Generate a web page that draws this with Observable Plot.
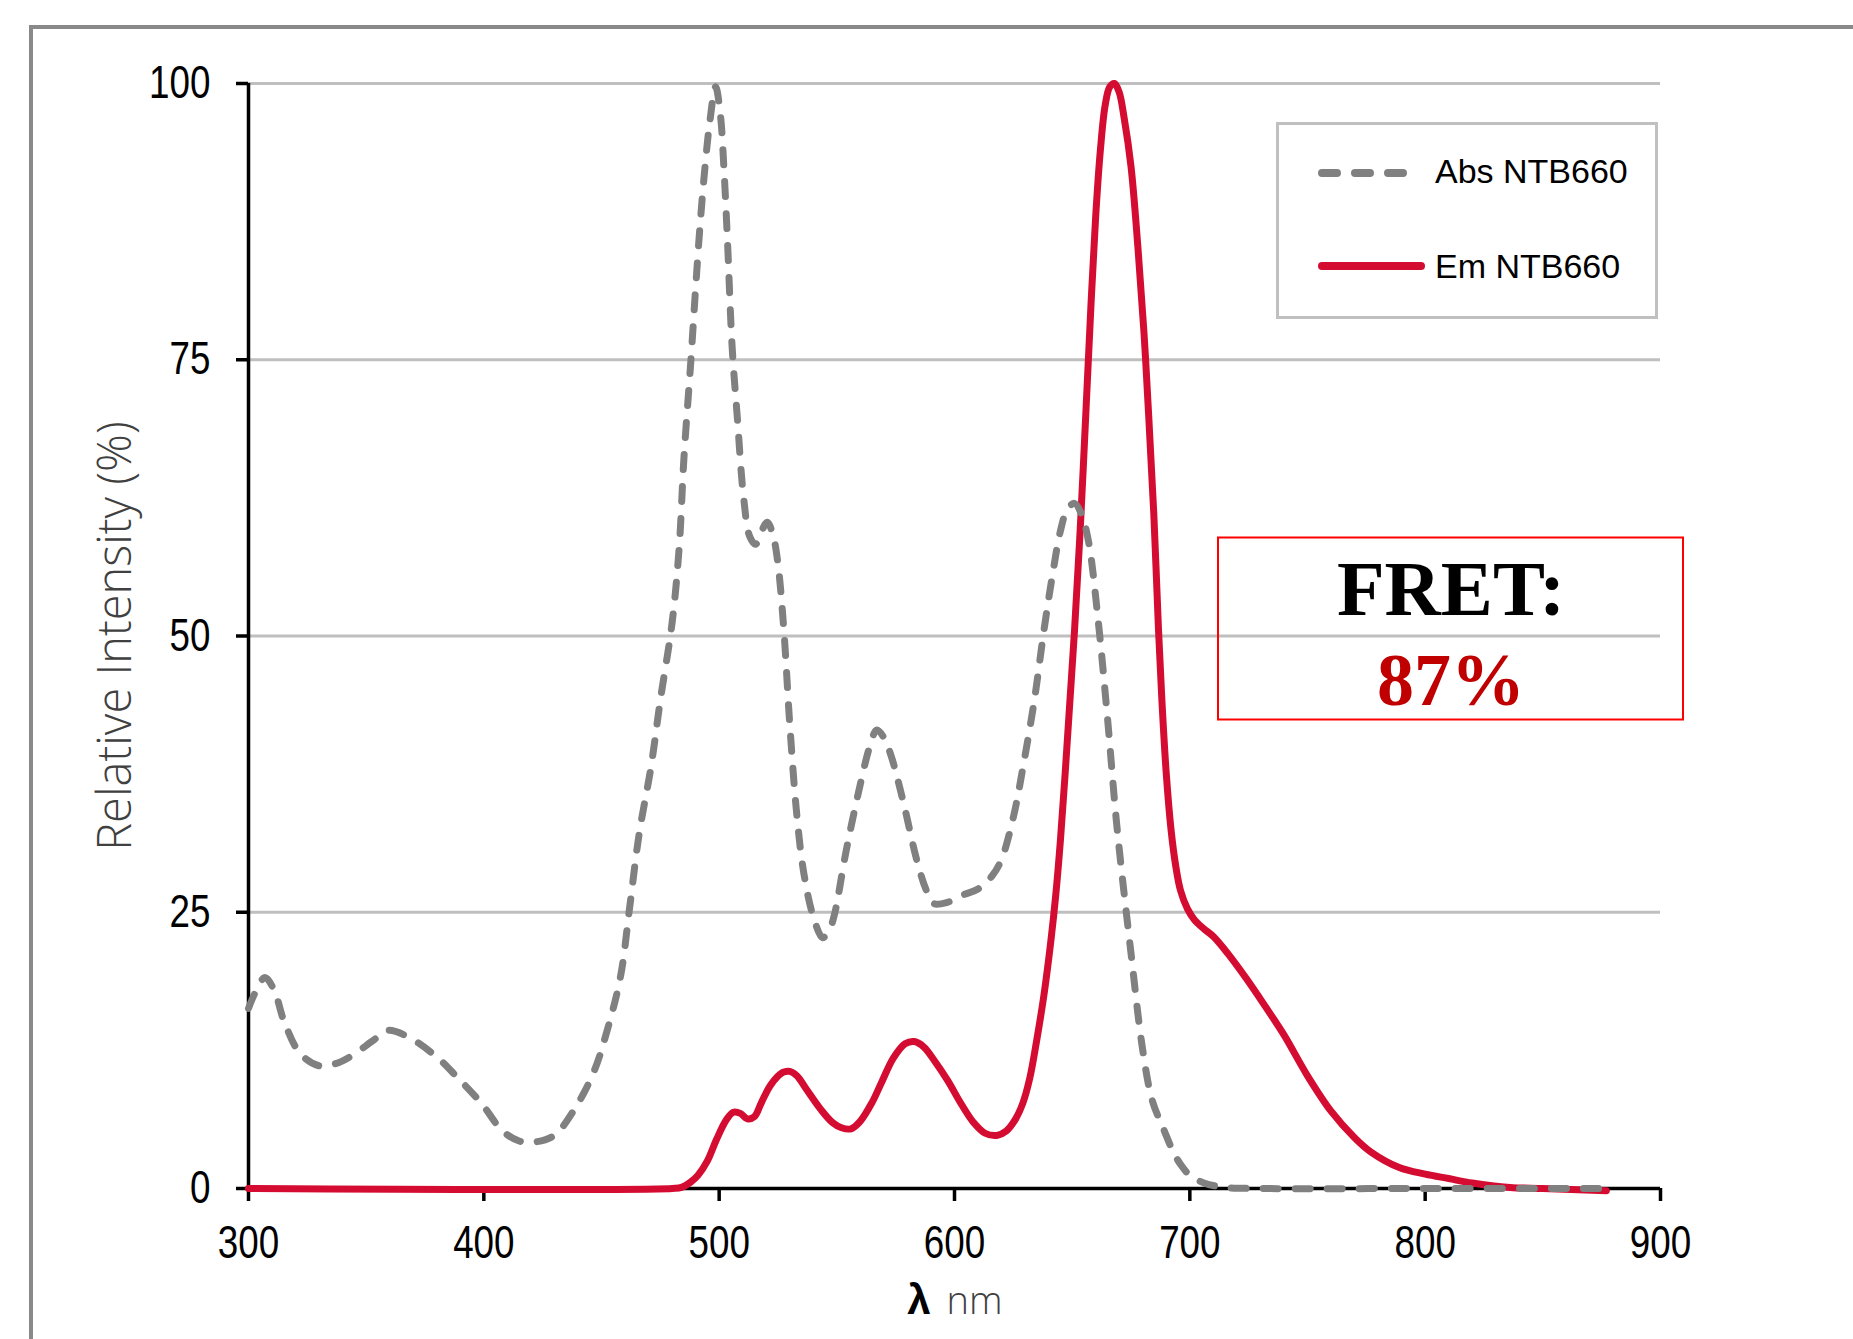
<!DOCTYPE html>
<html><head><meta charset="utf-8">
<script src="https://cdn.jsdelivr.net/npm/d3@7"></script>
<script src="https://cdn.jsdelivr.net/npm/@observablehq/plot@0.6"></script>
<style>
html,body{margin:0;padding:0;background:#fff;overflow:hidden;}
#wrap{position:relative;width:1853px;height:1339px;overflow:hidden;}
#frame{position:absolute;left:29px;top:25px;width:1900px;height:1400px;border-left:4px solid #898989;border-top:4px solid #898989;z-index:2;}
#wrap svg{position:absolute;left:0;top:0;}
#overlay{z-index:3;pointer-events:none;}
</style></head><body><div id="wrap"><div id="frame"></div></div>
<script>
// Absorbance (grey dashed)
const absWavelength = [300,303,307,311,315,322,330,337,343,353,359,368,380,389,399,408,415,420,426,431,440,447,452,458,462,466,471,475,480,483,485,488,490,492,494,496,498.5,500.5,502,503.5,505.5,507.7,510.4,513,515.5,518,520.5,523,525,527.5,530,533,536,540,544,547,549,554,560,564,567,570,573,578,584,588,591,597,604,610,616,620,625,629,634,638,642,645,648,651,654,657,661,665,669,675,680,684,689,693,696,700,706,715,730,800,875];
const absValue = [16.3,17.8,19.1,17.9,15.2,12.2,11.1,11.3,11.9,13.4,14.3,13.7,11.9,10.0,7.7,5.2,4.3,4.2,4.4,5.0,7.7,10.7,14.0,19.1,25.5,32.1,38.1,44.2,51.2,58.0,66.0,75.0,81.5,87.5,92.5,96.5,99.7,97.2,92.4,85.9,76.2,69.8,62.5,59.0,58.3,59.5,60.3,59.0,56.5,50.5,42.0,33.8,28.5,24.6,22.7,23.5,24.8,30.6,36.6,40.0,41.5,40.8,39.2,35.2,29.7,27.0,25.8,25.9,26.6,27.1,28.3,29.8,33.6,38.0,44.3,50.5,56.0,59.5,61.5,62.0,61.0,58.5,51.5,42.6,32.8,21.3,12.5,8.0,5.3,3.3,2.2,1.2,0.5,0.1,0,0,0];
// Emission (red solid)
const emWavelength = [300,480,484,488,491,495,499,503,506,509,512,515,518,522,527,530,533,537,543,548,552,556,560,565,569,574,579,583,587,592,597,603,608,613,618,622,626,629,632,635,638,641,643,645,647,649,651,653.5,656,658,660,662,664,666,668,670,672,675,678,680.5,682.5,684.7,686.7,688.3,690,692,694,696,699,702,706,710,716,724,732,740,750,760,770,777,789,800,810,820,836,850,877];
const emValue = [0,0,0.1,0.6,1.2,2.5,4.5,6.2,6.9,6.8,6.3,6.5,7.8,9.4,10.5,10.6,10.2,9.0,7.2,6.0,5.5,5.4,6.1,7.8,9.6,11.8,13.1,13.3,12.8,11.4,9.8,7.6,6.0,5.0,4.8,5.2,6.3,7.7,10.0,13.5,17.5,22.5,26.5,31.5,37.5,44.0,50.5,60.0,71.0,80.0,88.0,94.0,98.0,99.7,100,99.2,97.0,92.5,85.0,77.5,70.0,61.0,50.5,43.5,37.5,32.5,29.2,27.0,25.3,24.3,23.5,22.8,21.3,19.0,16.5,13.9,10.2,7.0,4.6,3.3,1.9,1.3,0.9,0.5,0.1,0,-0.2];

const seriesNames = ["Abs NTB660", "Em NTB660"];
const xTicks = [300, 400, 500, 600, 700, 800, 900];
const yTicks = [0, 25, 50, 75, 100];
const yLabel = "Relative Intensity (%)";
const xLabelSymbol = "λ";
const xLabelUnit = "nm";
const fretLabel = "FRET:";
const fretValue = "87%";

const absColor = "#808080";
const emColor = "#d50c31";

const abs = absWavelength.map((w, i) => ({w, v: absValue[i]}));
const em = emWavelength.map((w, i) => ({w, v: emValue[i]}));

const narrow = "'Liberation Sans Narrow', 'Liberation Sans', Arial, sans-serif";
const light = "'Open Sans', 'Noto Sans', sans-serif";

const chart = Plot.plot({
  width: 1853,
  height: 1339,
  marginLeft: 248,
  marginRight: 193,
  marginTop: 83,
  marginBottom: 151,
  style: {fontFamily: narrow, fontSize: "45px", color: "black", background: "transparent"},
  x: {domain: [300, 900]},
  y: {domain: [0, 100]},
  marks: [
    Plot.gridY(yTicks, {stroke: "#bfbfbf", strokeWidth: 3, strokeOpacity: 1}),
    Plot.ruleY([0], {stroke: "black", strokeWidth: 3.5}),
    Plot.ruleX([300], {stroke: "black", strokeWidth: 3.5}),
    Plot.axisY(yTicks, {tickSize: 12, tickPadding: 26, fontSize: 46, strokeWidth: 3.5, label: null, fontFamily: narrow}),
    Plot.axisX(xTicks, {tickSize: 13, tickPadding: 24, fontSize: 46, strokeWidth: 3.5, label: null, fontFamily: narrow}),
    Plot.line(em, {x: "w", y: "v", stroke: emColor, strokeWidth: 7, curve: "catmull-rom", strokeLinejoin: "round"}),
    Plot.line(abs, {x: "w", y: "v", stroke: absColor, strokeWidth: 7, strokeDasharray: "15,17", strokeLinecap: "round", curve: "catmull-rom"}),
    Plot.text([yLabel], {text: d => d, frameAnchor: "left", rotate: -90, dx: -133, textAnchor: "middle", lineAnchor: "middle", fontSize: 47, fontWeight: 300, fontFamily: light, fill: "#404040"}),
    Plot.text([xLabelSymbol], {text: d => d, frameAnchor: "bottom", dx: -24, dy: 125, textAnchor: "end", lineAnchor: "bottom", fontSize: 42, fontWeight: "bold", fontFamily: "'Liberation Sans', sans-serif", fill: "black"}),
    Plot.text([xLabelUnit], {text: d => d, frameAnchor: "bottom", dx: -8, dy: 125, textAnchor: "start", lineAnchor: "bottom", fontSize: 38, fontWeight: 300, fontFamily: light, fill: "#404040"})
  ]
});
const wrap = document.getElementById("wrap");
wrap.appendChild(chart);

// Condense tick labels horizontally (narrow face of the original) without moving them
d3.select(chart).selectAll('g[aria-label="y-axis tick label"] text, g[aria-label="x-axis tick label"] text').each(function () {
  const len = this.getComputedTextLength();
  if (len > 0) {
    this.setAttribute("textLength", (len * 0.8).toFixed(1));
    this.setAttribute("lengthAdjust", "spacingAndGlyphs");
  }
});

// Overlay: legend and FRET annotation box
const ov = d3.select(wrap).append("svg").attr("id", "overlay")
  .attr("width", 1853).attr("height", 1339);

const lg = ov.append("g");
lg.append("rect").attr("x", 1277.5).attr("y", 123.5).attr("width", 379).attr("height", 194)
  .attr("fill", "none").attr("stroke", "#c0c0c0").attr("stroke-width", 3);
const legendItems = [
  {name: seriesNames[0], color: absColor, dash: "15,18", y: 173, base: 183},
  {name: seriesNames[1], color: emColor, dash: null, y: 266, base: 278}
];
legendItems.forEach(it => {
  const ln = lg.append("line").attr("x1", 1322).attr("x2", 1421).attr("y1", it.y).attr("y2", it.y)
    .attr("stroke", it.color).attr("stroke-width", 8).attr("stroke-linecap", "round");
  if (it.dash) ln.attr("stroke-dasharray", it.dash);
  lg.append("text").attr("x", 1435).attr("y", it.base).text(it.name)
    .attr("font-family", "'Liberation Sans', Arial, sans-serif").attr("font-size", 34).attr("fill", "black");
});

const fb = ov.append("g");
fb.append("rect").attr("x", 1218).attr("y", 537.5).attr("width", 465).attr("height", 182)
  .attr("fill", "none").attr("stroke", "#ff0000").attr("stroke-width", 2);
fb.append("text").attr("x", 1451).attr("y", 615).attr("text-anchor", "middle").text(fretLabel)
  .attr("font-family", "'Liberation Serif', 'Times New Roman', serif").attr("font-weight", "bold")
  .attr("font-size", 78).attr("fill", "black");
fb.append("text").attr("x", 1451).attr("y", 705).attr("text-anchor", "middle").text(fretValue)
  .attr("font-family", "'Liberation Serif', 'Times New Roman', serif").attr("font-weight", "bold")
  .attr("font-size", 74).attr("fill", "#c00000");
</script>
</body></html>
